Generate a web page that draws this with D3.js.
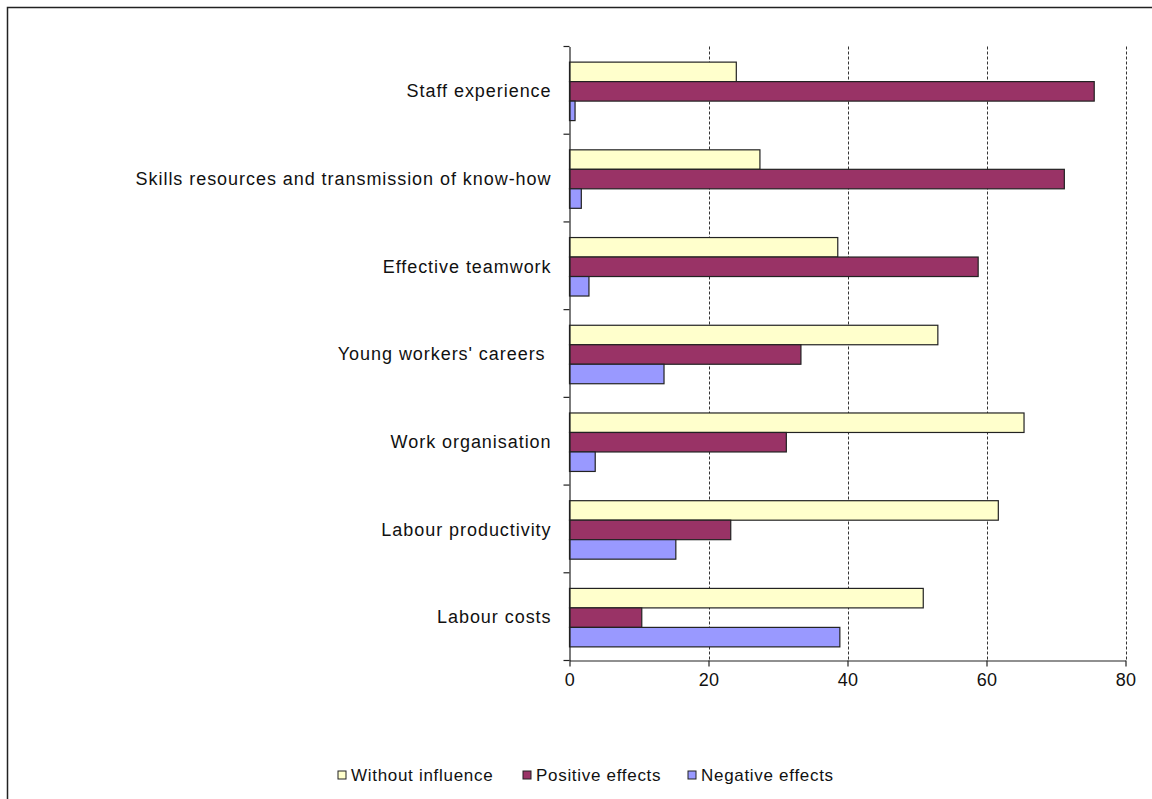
<!DOCTYPE html>
<html>
<head>
<meta charset="utf-8">
<script src="https://cdn.jsdelivr.net/npm/d3@7"></script>
<style>
  body { margin: 0; background: #fff; }
  svg text { font-family: "Liberation Sans", Arial, sans-serif; fill: #111; }
</style>
</head>
<body>
<script>
// categories top to bottom
const categories = [
  "Staff experience",
  "Skills resources and transmission of know-how",
  "Effective teamwork",
  "Young workers' careers ",
  "Work organisation",
  "Labour productivity",
  "Labour costs"
];
const seriesNames = ["Without influence", "Positive effects", "Negative effects"];
const withoutInfluence = [24, 27.4, 38.6, 53, 65.4, 61.7, 50.9];
const positiveEffects = [75.5, 71.2, 58.8, 33.3, 31.2, 23.2, 10.4];
const negativeEffects = [0.8, 1.7, 2.8, 13.6, 3.7, 15.3, 38.9];
const xTicks = [0, 20, 40, 60, 80];
const colors = ["#FFFFCC", "#993366", "#9999FF"];

const W = 1152, H = 799;
const svg = d3.select("body").append("svg")
    .attr("width", W).attr("height", H);

// outer frame
svg.append("rect")
    .attr("x", 7.5).attr("y", 7.5)
    .attr("width", W).attr("height", H)
    .attr("fill", "none").attr("stroke", "#222").attr("stroke-width", 1.5);

const plot = { left: 569.5, right: 1125.5, top: 46.5, bottom: 660.5 };

const x = d3.scaleLinear().domain([0, 80]).range([plot.left, plot.right]);
const y = d3.scaleBand().domain(categories).range([plot.top, plot.bottom]);
const inner = d3.scaleBand().domain(seriesNames)
    .range([1, y.bandwidth() + 1]).paddingOuter(0.75).paddingInner(0);

const rows = categories.map((c, i) => ({
  cat: c,
  vals: [withoutInfluence[i], positiveEffects[i], negativeEffects[i]]
}));

// dashed gridlines
svg.append("g").selectAll("line")
  .data(xTicks.filter(t => t > 0))
  .join("line")
    .attr("x1", d => Math.round(x(d)) + 0.5).attr("x2", d => Math.round(x(d)) + 0.5)
    .attr("y1", plot.top).attr("y2", plot.bottom)
    .attr("stroke", "#333").attr("stroke-dasharray", "3,2");

// bars
const groups = svg.append("g").selectAll("g")
  .data(rows)
  .join("g")
    .attr("transform", d => `translate(0,${y(d.cat)})`);

groups.selectAll("rect")
  .data(d => d.vals.map((v, j) => ({ v, j })))
  .join("rect")
    .attr("x", x(0))
    .attr("y", d => inner(seriesNames[d.j]))
    .attr("width", d => x(d.v) - x(0))
    .attr("height", inner.bandwidth())
    .attr("fill", d => colors[d.j])
    .attr("stroke", "#222").attr("stroke-width", 1.2);

// y axis
const yAxis = d3.axisLeft(y).tickSize(0).tickPadding(18);
const gy = svg.append("g").attr("transform", `translate(${plot.left},0)`).call(yAxis);
gy.select(".domain").attr("stroke", "#222").attr("stroke-width", 1.2);
gy.selectAll("text").attr("font-size", 18).attr("fill", "#111")
    .style("white-space", "pre")
    .attr("letter-spacing", "0.95px")
    .attr("font-family", "'Liberation Sans', Arial, sans-serif")
    .attr("dy", "0.38em");
// category boundary ticks
const bounds = categories.map(c => y(c)).concat([plot.bottom]);
svg.append("g").selectAll("line")
  .data(bounds)
  .join("line")
    .attr("x1", plot.left - 6).attr("x2", plot.left)
    .attr("y1", d => d).attr("y2", d => d)
    .attr("stroke", "#222").attr("stroke-width", 1.2);

// x axis
const xAxis = d3.axisBottom(x).tickValues(xTicks).tickSize(6).tickPadding(7).tickSizeOuter(0);
const gx = svg.append("g").attr("transform", `translate(0,${plot.bottom})`).call(xAxis);
gx.select(".domain").attr("stroke", "#222").attr("stroke-width", 1.2);
gx.selectAll("line").attr("stroke", "#222").attr("stroke-width", 1.2);
gx.selectAll("text").attr("font-size", 18).attr("fill", "#111")
    .attr("letter-spacing", "0.3px")
    .attr("font-family", "'Liberation Sans', Arial, sans-serif");

// legend
const legendX = [338, 523, 688];
const legend = svg.append("g").selectAll("g")
  .data(seriesNames)
  .join("g")
    .attr("transform", (d, i) => `translate(${legendX[i]},775)`);
legend.append("rect")
    .attr("x", 0).attr("y", -4).attr("width", 8).attr("height", 8)
    .attr("fill", (d, i) => colors[i]).attr("stroke", "#222").attr("stroke-width", 1);
legend.append("text")
    .attr("x", 13).attr("dy", "0.35em")
    .attr("font-size", 17)
    .attr("letter-spacing", "0.7px")
    .text(d => d);
</script>
</body>
</html>
